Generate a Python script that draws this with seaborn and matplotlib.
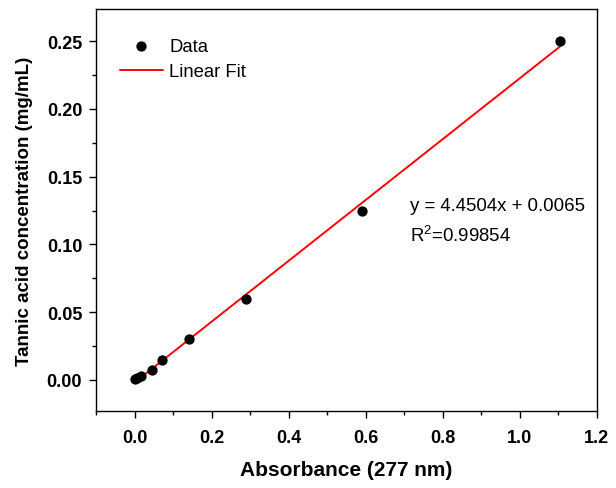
import numpy as np
import pandas as pd
import matplotlib
matplotlib.use("Agg")
import matplotlib.pyplot as plt
import seaborn as sns
from matplotlib.ticker import MultipleLocator, FormatStrFormatter

# calibration data
absorbance = [0.0, 0.005, 0.0155, 0.046, 0.072, 0.142, 0.290, 0.591, 1.104]
concentration = [0.0005, 0.001, 0.0027, 0.0072, 0.0148, 0.0303, 0.060, 0.125, 0.250]
eq_text = "y = 4.4504x + 0.0065"
r2_text = "R$^2$=0.99854"

df = pd.DataFrame({"Absorbance": absorbance, "Conc": concentration})

sns.set_style("ticks")
plt.rcParams['font.family'] = ['Liberation Sans', 'DejaVu Sans']
plt.rcParams['text.color'] = 'black'
plt.rcParams['axes.labelcolor'] = 'black'
plt.rcParams['xtick.color'] = 'black'
plt.rcParams['ytick.color'] = 'black'
plt.rcParams['mathtext.fontset'] = 'custom'
plt.rcParams['mathtext.rm'] = 'Liberation Sans'

fig, ax = plt.subplots(figsize=(6.16, 4.89), dpi=100)
fig.subplots_adjust(left=0.156, right=0.969, top=0.98, bottom=0.1575)

sns.scatterplot(x="Absorbance", y="Conc", data=df, color="black", s=55,
                edgecolor="black", linewidth=0, zorder=3, label="Data", ax=ax)

# linear fit over the data range
slope, intercept = np.polyfit(df["Absorbance"], df["Conc"], 1)
xs = np.array([df["Absorbance"].min(), df["Absorbance"].max()])
ax.plot(xs, slope * xs + intercept, color="red", lw=1.4, label="Linear Fit", zorder=2)

ax.set_xlim(-0.1, 1.2)
ax.set_ylim(-0.023, 0.274)
ax.xaxis.set_major_locator(MultipleLocator(0.2))
ax.xaxis.set_minor_locator(MultipleLocator(0.1))
ax.yaxis.set_major_locator(MultipleLocator(0.05))
ax.yaxis.set_minor_locator(MultipleLocator(0.025))
ax.xaxis.set_major_formatter(FormatStrFormatter('%.1f'))
ax.yaxis.set_major_formatter(FormatStrFormatter('%.2f'))

ax.tick_params(which="major", direction="out", length=5, width=1, labelsize=13, pad=5)
ax.tick_params(axis="x", which="major", pad=8)
ax.tick_params(which="minor", direction="out", length=3, width=1)
for lab in ax.get_xticklabels() + ax.get_yticklabels():
    lab.set_fontweight("bold")
for sp in ax.spines.values():
    sp.set_linewidth(1)
    sp.set_color("black")

ax.set_xlabel("Absorbance (277 nm)", fontsize=15, fontweight="bold", labelpad=10)
ax.set_ylabel("Tannic acid concentration (mg/mL)", fontsize=13.5, fontweight="bold", labelpad=10)

ax.text(0.715, 0.129, eq_text, fontsize=13.4, va="center")
ax.text(0.715, 0.1075, r2_text, fontsize=13.4, va="center")

ax.legend(loc="upper left", frameon=False, fontsize=13.3, handlelength=2.3,
          borderaxespad=0, borderpad=0, labelspacing=0.45, handletextpad=0.35,
          bbox_to_anchor=(0.048, 0.928))

fig.savefig("out.png", dpi=100)
